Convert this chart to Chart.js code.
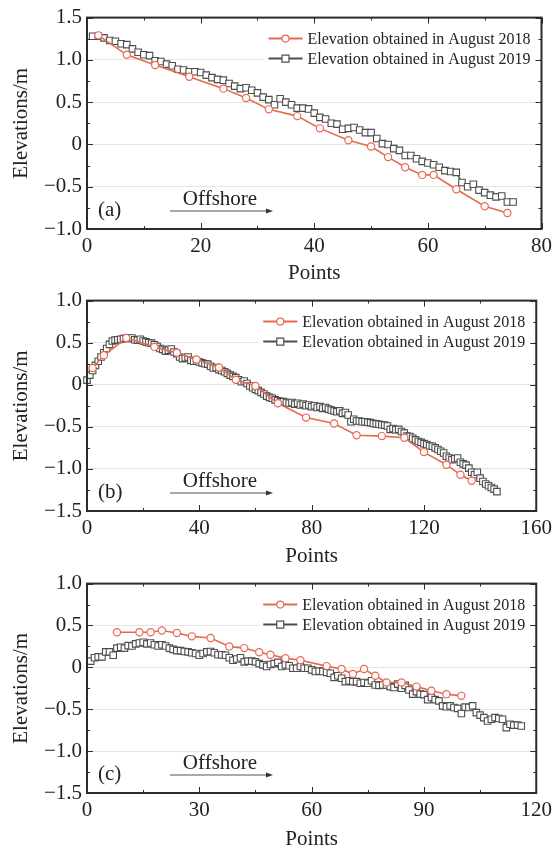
<!DOCTYPE html>
<html>
<head>
<meta charset="utf-8">
<script src="https://cdn.jsdelivr.net/npm/chart.js"></script>
<style>
  body { margin: 0; background: #fff; }
  .panel { position: absolute; left: 0; }
</style>
</head>
<body>
<div class="panel" style="top:0"><canvas id="chartA" width="557" height="283"></canvas></div>
<div class="panel" style="top:283px"><canvas id="chartB" width="557" height="283"></canvas></div>
<div class="panel" style="top:566px"><canvas id="chartC" width="557" height="287"></canvas></div>
<script>
// Series labels
const seriesLabels = ['Elevation obtained in August 2018', 'Elevation obtained in August 2019'];

// Panel (a)
const a2018X = [2, 7, 12, 18, 24, 28, 32, 37, 41, 46, 50, 53, 56, 59, 61, 65, 70, 74];
const a2018Y = [1.29, 1.06, 0.94, 0.80, 0.66, 0.55, 0.415, 0.335, 0.19, 0.05, -0.025, -0.15, -0.27, -0.36, -0.36, -0.53, -0.73, -0.81];
const a2019Start = 1;
const a2019Y = [
  1.28, 1.28, 1.26, 1.23, 1.22, 1.19, 1.18, 1.13, 1.09, 1.06,
  1.05, 0.99, 0.98, 0.95, 0.93, 0.89, 0.88, 0.86, 0.86, 0.85,
  0.82, 0.79, 0.77, 0.76, 0.72, 0.69, 0.66, 0.67, 0.64, 0.61,
  0.56, 0.53, 0.47, 0.54, 0.50, 0.47, 0.43, 0.43, 0.42, 0.37,
  0.32, 0.30, 0.25, 0.24, 0.18, 0.19, 0.20, 0.17, 0.14, 0.14,
  0.07, 0.01, 0.00, -0.05, -0.07, -0.13, -0.13, -0.17, -0.20, -0.22,
  -0.24, -0.27, -0.31, -0.32, -0.33, -0.45, -0.50, -0.47, -0.54, -0.57,
  -0.60, -0.62, -0.61, -0.68, -0.68
];

// Panel (b)
const b2018X = [2, 6, 14, 24, 32, 39, 47, 53, 60, 68, 78, 88, 96, 105, 113, 120, 128, 133, 137];
const b2018Y = [0.20, 0.35, 0.555, 0.45, 0.38, 0.30, 0.205, 0.06, -0.015, -0.22, -0.39, -0.46, -0.60, -0.61, -0.63, -0.80, -0.95, -1.07, -1.14];
const b2019Start = 0;
const b2019Y = [
  0.055, 0.115, 0.17, 0.23, 0.28, 0.33, 0.38, 0.43, 0.48, 0.52,
  0.53, 0.535, 0.54, 0.55, 0.555, 0.55, 0.555, 0.535, 0.53, 0.54,
  0.52, 0.51, 0.50, 0.495, 0.475, 0.455, 0.43, 0.42, 0.40, 0.41,
  0.425, 0.39, 0.37, 0.33, 0.31, 0.32, 0.33, 0.29, 0.28, 0.28,
  0.27, 0.26, 0.25, 0.245, 0.22, 0.20, 0.205, 0.18, 0.17, 0.155,
  0.135, 0.115, 0.10, 0.085, 0.06, 0.035, 0.045, 0.015, -0.015, -0.035,
  -0.055, -0.07, -0.09, -0.11, -0.135, -0.15, -0.16, -0.18, -0.19, -0.20,
  -0.20, -0.21, -0.22, -0.21, -0.23, -0.22, -0.24, -0.23, -0.25, -0.24,
  -0.26, -0.25, -0.27, -0.26, -0.28, -0.27, -0.29, -0.30, -0.31, -0.32,
  -0.31, -0.34, -0.33, -0.36, -0.44, -0.41, -0.43, -0.43, -0.44, -0.44,
  -0.445, -0.45, -0.46, -0.465, -0.47, -0.475, -0.48, -0.49, -0.53, -0.52,
  -0.535, -0.53, -0.555, -0.575, -0.61, -0.615, -0.635, -0.655, -0.675, -0.685,
  -0.70, -0.71, -0.725, -0.73, -0.75, -0.77, -0.79, -0.81, -0.85, -0.87,
  -0.89, -0.88, -0.87, -0.92, -0.94, -0.955, -0.99, -1.04, -1.07, -1.04,
  -1.11, -1.15, -1.18, -1.20, -1.22, -1.24, -1.27
];

// Panel (c)
const c2018X = [8, 14, 17, 20, 24, 28, 33, 38, 42, 46, 49, 53, 57, 64, 68, 71, 74, 77, 80, 84, 88, 92, 96, 100];
const c2018Y = [0.42, 0.42, 0.42, 0.44, 0.41, 0.37, 0.35, 0.25, 0.23, 0.18, 0.15, 0.11, 0.085, 0.015, -0.02, -0.08, -0.02, -0.10, -0.18, -0.18, -0.23, -0.28, -0.32, -0.34];
const c2019Start = 1;
const c2019Y = [
  0.075, 0.115, 0.125, 0.125, 0.185, 0.185, 0.145, 0.23, 0.24, 0.23,
  0.26, 0.255, 0.28, 0.29, 0.30, 0.28, 0.29, 0.27, 0.255, 0.27,
  0.255, 0.23, 0.215, 0.20, 0.20, 0.19, 0.185, 0.175, 0.165, 0.145,
  0.165, 0.185, 0.19, 0.175, 0.15, 0.15, 0.145, 0.115, 0.085, 0.10,
  0.115, 0.065, 0.075, 0.075, 0.065, 0.045, 0.03, 0.01, 0.035, 0.045,
  0.06, 0.01, 0.03, 0.02, -0.01, -0.01, 0.01, -0.01, -0.01, -0.03,
  -0.05, -0.045, -0.05, -0.06, -0.07, -0.12, -0.10, -0.13, -0.17, -0.16,
  -0.17, -0.17, -0.19, -0.18, -0.19, -0.16, -0.21, -0.215, -0.21, -0.21,
  -0.23, -0.24, -0.20, -0.25, -0.215, -0.27, -0.32, -0.29, -0.32, -0.325,
  -0.385, -0.36, -0.385, -0.40, -0.46, -0.47, -0.46, -0.48, -0.49, -0.55,
  -0.475, -0.48, -0.46, -0.54, -0.57, -0.60, -0.64, -0.62, -0.60, -0.61,
  -0.62, -0.72, -0.68, -0.69, -0.69, -0.70
];

const COL_2018 = '#e8694f';
const COL_2019 = '#4d4d4d';
const FONT = '"Liberation Serif", "Times New Roman", serif';

function pairs(xs, ys) {
  return ys.map((y, i) => ({ x: xs[i], y }));
}
function seq(start, ys) {
  return ys.map((y, i) => ({ x: start + i, y }));
}

function fmtY(v) {
  if (Math.abs(v) < 1e-9) return '0';
  return (v < 0 ? '\u2212' : '') + Math.abs(v).toFixed(1);
}

// ticks hacia adentro, marco, leyenda y anotaciones
const decorPlugin = {
  id: 'decor',
  beforeDatasetsDraw(chart) {
    const { ctx, chartArea: ca } = chart;
    ctx.save();
    // fondo blanco de la leyenda (tapa la grilla)
    ctx.fillStyle = '#fff';
    ctx.fillRect(ca.right - 277, ca.top + 8, 274, 44);
    ctx.restore();
  },
  afterDraw(chart) {
    const { ctx, chartArea: ca, scales } = chart;
    const o = chart.options.plugins.decor;
    const xs = scales.x, ys = scales.y;
    ctx.save();
    ctx.strokeStyle = '#2b2b2b';
    ctx.lineWidth = 1;

    // x ticks
    const xMaj = xs.options.ticks.stepSize;
    for (let v = xs.min; v <= xs.max + 1e-6; v += xMaj / 2) {
      const px = Math.round(xs.getPixelForValue(v)) + 0.5;
      const major = Math.abs((v / xMaj) - Math.round(v / xMaj)) < 1e-6;
      const len = major ? 6 : 3;
      ctx.beginPath();
      ctx.moveTo(px, ca.bottom); ctx.lineTo(px, ca.bottom - len);
      ctx.moveTo(px, ca.top); ctx.lineTo(px, ca.top + len);
      ctx.stroke();
    }
    // y ticks
    const yMaj = ys.options.ticks.stepSize;
    for (let v = ys.min; v <= ys.max + 1e-6; v += yMaj / 2) {
      const py = Math.round(ys.getPixelForValue(v)) + 0.5;
      const major = Math.abs((v / yMaj) - Math.round(v / yMaj)) < 1e-6;
      const len = major ? 6 : 3;
      ctx.beginPath();
      ctx.moveTo(ca.left, py); ctx.lineTo(ca.left + len, py);
      ctx.moveTo(ca.right, py); ctx.lineTo(ca.right - len, py);
      ctx.stroke();
    }

    // marco
    ctx.lineWidth = 2;
    ctx.strokeStyle = '#2b2b2b';
    ctx.strokeRect(ca.left, ca.top, ca.right - ca.left, ca.bottom - ca.top);

    // leyenda
    ctx.font = '16px ' + FONT;
    ctx.textBaseline = 'middle';
    ctx.textAlign = 'left';
    chart.data.datasets.forEach((ds, i) => {
      const y = ca.top + 21 + i * 20;
      const x0 = ca.right - 273, x1 = ca.right - 239, mx = (x0 + x1) / 2;
      ctx.strokeStyle = ds.borderColor;
      ctx.lineWidth = 2;
      ctx.beginPath(); ctx.moveTo(x0, y); ctx.lineTo(x1, y); ctx.stroke();
      ctx.fillStyle = '#fff';
      ctx.lineWidth = 1.2;
      ctx.beginPath();
      if (ds.pointStyle === 'circle') ctx.arc(mx, y, 3.5, 0, Math.PI * 2);
      else ctx.rect(mx - 3.5, y - 3.5, 7, 7);
      ctx.fill(); ctx.stroke();
      ctx.fillStyle = '#222';
      ctx.fillText(ds.label, ca.right - 234, y + 1);
    });

    // (a) / Offshore
    ctx.font = '21px ' + FONT;
    ctx.fillStyle = '#222';
    ctx.textAlign = 'left';
    ctx.fillText(o.tag, ca.left + 11, ca.bottom - 19);
    ctx.textAlign = 'center';
    ctx.fillText('Offshore', ca.left + 133, ca.bottom - 30);
    const ay = ca.bottom - 18;
    ctx.strokeStyle = '#555';
    ctx.lineWidth = 1;
    ctx.beginPath(); ctx.moveTo(ca.left + 83, ay); ctx.lineTo(ca.left + 183, ay); ctx.stroke();
    ctx.fillStyle = '#333';
    ctx.beginPath();
    ctx.moveTo(ca.left + 186, ay); ctx.lineTo(ca.left + 179, ay - 2.5); ctx.lineTo(ca.left + 179, ay + 2.5);
    ctx.closePath(); ctx.fill();
    ctx.restore();
  }
};

function makePanel(id, cfg) {
  const ds2018 = {
    label: seriesLabels[0],
    data: cfg.d2018,
    showLine: true,
    borderColor: COL_2018,
    borderWidth: 1.6,
    pointStyle: 'circle',
    pointRadius: 3.6,
    pointBorderWidth: 1.2,
    pointBackgroundColor: '#fff',
    pointBorderColor: COL_2018,
    clip: false
  };
  const ds2019 = {
    label: seriesLabels[1],
    data: cfg.d2019,
    showLine: true,
    borderColor: COL_2019,
    borderWidth: 1.4,
    pointStyle: 'rect',
    pointRadius: 4.6,
    pointBorderWidth: 1.1,
    pointBackgroundColor: '#fff',
    pointBorderColor: COL_2019,
    clip: false
  };
  return new Chart(document.getElementById(id), {
    type: 'scatter',
    data: { datasets: [ds2018, ds2019] },
    plugins: [decorPlugin],
    options: {
      responsive: false,
      animation: false,
      events: [],
      layout: { padding: { top: cfg.padTop, right: 15, left: 0, bottom: 0 } },
      plugins: {
        legend: { display: false },
        tooltip: { enabled: false },
        decor: { tag: cfg.tag }
      },
      scales: {
        x: {
          type: 'linear',
          min: cfg.xMin, max: cfg.xMax,
          afterFit(s) { s.height = cfg.xAxisH; },
          grid: { display: false, drawTicks: false },
          border: { display: false },
          ticks: { stepSize: cfg.xStep, color: '#222', padding: 5, font: { family: FONT, size: 21 }, maxRotation: 0 },
          title: { display: true, text: 'Points', color: '#222', font: { family: FONT, size: 21 }, padding: { top: 0, bottom: cfg.xTitlePad } }
        },
        y: {
          min: cfg.yMin, max: cfg.yMax,
          afterFit(s) { s.width = 87; },
          grid: { color: '#e4e4e4', lineWidth: 1, drawTicks: false },
          border: { display: false },
          ticks: { stepSize: 0.5, color: '#222', padding: 5, font: { family: FONT, size: 21 }, callback: fmtY },
          title: { display: true, text: 'Elevations/m', color: '#222', font: { family: FONT, size: 21 }, padding: { top: 9, bottom: 0 } }
        }
      }
    }
  });
}

makePanel('chartA', {
  d2018: pairs(a2018X, a2018Y), d2019: seq(a2019Start, a2019Y),
  xMin: 0, xMax: 80, xStep: 20, yMin: -1.0, yMax: 1.5,
  padTop: 17, xAxisH: 54, xTitlePad: -3, tag: '(a)'
});
makePanel('chartB', {
  d2018: pairs(b2018X, b2018Y), d2019: seq(b2019Start, b2019Y),
  xMin: 0, xMax: 160, xStep: 40, yMin: -1.5, yMax: 1.0,
  padTop: 16, xAxisH: 55, xTitlePad: -3, tag: '(b)'
});
makePanel('chartC', {
  d2018: pairs(c2018X, c2018Y), d2019: seq(c2019Start, c2019Y),
  xMin: 0, xMax: 120, xStep: 30, yMin: -1.5, yMax: 1.0,
  padTop: 14, xAxisH: 60, xTitlePad: 1, tag: '(c)'
});
</script>
</body>
</html>
